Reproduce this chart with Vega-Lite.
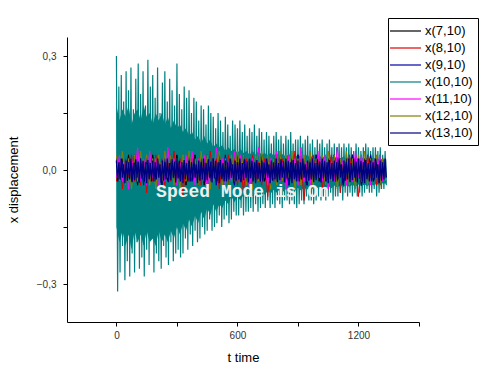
{
"$schema":"https://vega.github.io/schema/vega-lite/v6.json",
"autosize":{"type":"none"},
"padding":{"left":67,"top":37,"right":63,"bottom":65},
"width":352,"height":285,
"config":{"view":{"stroke":null},"font":"Liberation Sans"},
"datasets":{
"env":[
{"t":0,"hi":0.17,"lo":-0.15},{"t":15,"hi":0.13,"lo":-0.19},{"t":30,"hi":0.16,"lo":-0.16},{"t":45,"hi":0.14,"lo":-0.20},{"t":60,"hi":0.17,"lo":-0.17},{"t":75,"hi":0.12,"lo":-0.21},{"t":90,"hi":0.15,"lo":-0.16},{"t":105,"hi":0.16,"lo":-0.19},{"t":120,"hi":0.13,"lo":-0.17},{"t":135,"hi":0.17,"lo":-0.20},
{"t":150,"hi":0.14,"lo":-0.16},{"t":165,"hi":0.15,"lo":-0.19},{"t":180,"hi":0.12,"lo":-0.18},{"t":195,"hi":0.15,"lo":-0.20},{"t":210,"hi":0.13,"lo":-0.16},{"t":225,"hi":0.15,"lo":-0.19},{"t":240,"hi":0.12,"lo":-0.17},{"t":255,"hi":0.14,"lo":-0.19},{"t":270,"hi":0.11,"lo":-0.16},{"t":285,"hi":0.13,"lo":-0.18},
{"t":300,"hi":0.11,"lo":-0.15},{"t":315,"hi":0.12,"lo":-0.17},{"t":330,"hi":0.10,"lo":-0.14},{"t":345,"hi":0.11,"lo":-0.16},{"t":360,"hi":0.09,"lo":-0.13},{"t":375,"hi":0.10,"lo":-0.15},{"t":390,"hi":0.08,"lo":-0.12},{"t":405,"hi":0.09,"lo":-0.14},{"t":420,"hi":0.07,"lo":-0.11},{"t":435,"hi":0.09,"lo":-0.13},
{"t":450,"hi":0.07,"lo":-0.10},{"t":465,"hi":0.08,"lo":-0.12},{"t":480,"hi":0.06,"lo":-0.09},{"t":495,"hi":0.07,"lo":-0.11},{"t":510,"hi":0.06,"lo":-0.09},{"t":525,"hi":0.065,"lo":-0.10},{"t":540,"hi":0.05,"lo":-0.08},{"t":555,"hi":0.06,"lo":-0.09},{"t":570,"hi":0.05,"lo":-0.07},{"t":585,"hi":0.055,"lo":-0.085},
{"t":600,"hi":0.045,"lo":-0.07},{"t":615,"hi":0.055,"lo":-0.08},{"t":630,"hi":0.045,"lo":-0.065},{"t":645,"hi":0.05,"lo":-0.075},{"t":660,"hi":0.04,"lo":-0.06},{"t":675,"hi":0.05,"lo":-0.07},{"t":690,"hi":0.04,"lo":-0.06},{"t":705,"hi":0.05,"lo":-0.068},{"t":720,"hi":0.04,"lo":-0.055},{"t":735,"hi":0.045,"lo":-0.065},
{"t":750,"hi":0.038,"lo":-0.055},{"t":765,"hi":0.045,"lo":-0.062},{"t":780,"hi":0.038,"lo":-0.052},{"t":795,"hi":0.044,"lo":-0.06},{"t":810,"hi":0.036,"lo":-0.05},{"t":825,"hi":0.042,"lo":-0.058},{"t":840,"hi":0.035,"lo":-0.05},{"t":855,"hi":0.042,"lo":-0.056},{"t":870,"hi":0.035,"lo":-0.048},{"t":885,"hi":0.04,"lo":-0.055},
{"t":900,"hi":0.034,"lo":-0.047},{"t":915,"hi":0.04,"lo":-0.054},{"t":930,"hi":0.033,"lo":-0.046},{"t":945,"hi":0.04,"lo":-0.052},{"t":960,"hi":0.033,"lo":-0.045},{"t":975,"hi":0.038,"lo":-0.05},{"t":990,"hi":0.032,"lo":-0.044},{"t":1005,"hi":0.038,"lo":-0.05},{"t":1020,"hi":0.032,"lo":-0.043},{"t":1035,"hi":0.037,"lo":-0.048},
{"t":1050,"hi":0.031,"lo":-0.042},{"t":1065,"hi":0.036,"lo":-0.048},{"t":1080,"hi":0.031,"lo":-0.041},{"t":1095,"hi":0.035,"lo":-0.046},{"t":1110,"hi":0.03,"lo":-0.04},{"t":1125,"hi":0.035,"lo":-0.045},{"t":1140,"hi":0.03,"lo":-0.04},{"t":1155,"hi":0.034,"lo":-0.044},{"t":1170,"hi":0.029,"lo":-0.039},{"t":1185,"hi":0.033,"lo":-0.044},
{"t":1200,"hi":0.029,"lo":-0.038},{"t":1215,"hi":0.033,"lo":-0.043},{"t":1230,"hi":0.028,"lo":-0.038},{"t":1245,"hi":0.032,"lo":-0.042},{"t":1260,"hi":0.028,"lo":-0.037},{"t":1275,"hi":0.032,"lo":-0.041},{"t":1290,"hi":0.027,"lo":-0.036},{"t":1305,"hi":0.031,"lo":-0.04},{"t":1320,"hi":0.027,"lo":-0.035},{"t":1338,"hi":0.028,"lo":-0.036}
],
"teal":[
{"t":0,"v":0.30,"n":0.025},{"t":6,"v":-0.32,"n":-0.03},{"t":12,"v":0.22,"n":0.02},{"t":18,"v":-0.27,"n":-0.025},{"t":24,"v":0.25,"n":0.03},{"t":30,"v":-0.20,"n":-0.02},{"t":36,"v":0.18,"n":0.015},{"t":42,"v":-0.29,"n":-0.035},{"t":48,"v":0.26,"n":0.025},{"t":54,"v":-0.24,"n":-0.028},
{"t":60,"v":0.21,"n":0.02},{"t":66,"v":-0.28,"n":-0.025},{"t":72,"v":0.27,"n":0.03},{"t":78,"v":-0.22,"n":-0.032},{"t":84,"v":0.16,"n":0.018},{"t":90,"v":-0.27,"n":-0.027},{"t":96,"v":0.24,"n":0.028},{"t":102,"v":-0.19,"n":-0.02},{"t":108,"v":0.28,"n":0.022},{"t":114,"v":-0.26,"n":-0.033},
{"t":120,"v":0.20,"n":0.03},{"t":126,"v":-0.23,"n":-0.022},{"t":132,"v":0.26,"n":0.024},{"t":138,"v":-0.28,"n":-0.03},{"t":144,"v":0.17,"n":0.02},{"t":150,"v":-0.21,"n":-0.035},{"t":156,"v":0.29,"n":0.026},{"t":162,"v":-0.25,"n":-0.024},{"t":168,"v":0.22,"n":0.018},{"t":174,"v":-0.18,"n":-0.03},
{"t":180,"v":0.25,"n":0.025},{"t":186,"v":-0.27,"n":-0.03},{"t":192,"v":0.19,"n":0.02},{"t":198,"v":-0.22,"n":-0.025},{"t":204,"v":0.27,"n":0.03},{"t":210,"v":-0.24,"n":-0.02},{"t":216,"v":0.15,"n":0.015},{"t":222,"v":-0.26,"n":-0.035},{"t":228,"v":0.23,"n":0.025},{"t":234,"v":-0.20,"n":-0.028},
{"t":240,"v":0.26,"n":0.02},{"t":246,"v":-0.23,"n":-0.025},{"t":252,"v":0.18,"n":0.03},{"t":258,"v":-0.25,"n":-0.032},{"t":264,"v":0.24,"n":0.018},{"t":270,"v":-0.19,"n":-0.027},{"t":276,"v":0.21,"n":0.028},{"t":282,"v":-0.24,"n":-0.02},{"t":288,"v":0.17,"n":0.022},{"t":294,"v":-0.22,"n":-0.033},
{"t":300,"v":0.28,"n":0.03},{"t":306,"v":-0.21,"n":-0.022},{"t":312,"v":0.20,"n":0.024},{"t":318,"v":-0.23,"n":-0.03},{"t":324,"v":0.16,"n":0.02},{"t":330,"v":-0.22,"n":-0.035},{"t":336,"v":0.22,"n":0.026},{"t":342,"v":-0.18,"n":-0.024},{"t":348,"v":0.19,"n":0.018},{"t":354,"v":-0.21,"n":-0.03},
{"t":360,"v":0.21,"n":0.025},{"t":366,"v":-0.17,"n":-0.03},{"t":372,"v":0.15,"n":0.02},{"t":378,"v":-0.20,"n":-0.025},{"t":384,"v":0.19,"n":0.03},{"t":390,"v":-0.16,"n":-0.02},{"t":396,"v":0.18,"n":0.015},{"t":402,"v":-0.19,"n":-0.035},{"t":408,"v":0.13,"n":0.025},{"t":414,"v":-0.18,"n":-0.028},
{"t":420,"v":0.17,"n":0.02},{"t":426,"v":-0.15,"n":-0.025},{"t":432,"v":0.16,"n":0.03},{"t":438,"v":-0.17,"n":-0.032},{"t":444,"v":0.12,"n":0.018},{"t":450,"v":-0.16,"n":-0.027},{"t":456,"v":0.17,"n":0.028},{"t":462,"v":-0.13,"n":-0.02},{"t":468,"v":0.15,"n":0.022},{"t":474,"v":-0.16,"n":-0.033},
{"t":480,"v":0.14,"n":0.03},{"t":486,"v":-0.15,"n":-0.022},{"t":492,"v":0.11,"n":0.024},{"t":498,"v":-0.14,"n":-0.03},{"t":504,"v":0.15,"n":0.02},{"t":510,"v":-0.12,"n":-0.035},{"t":516,"v":0.13,"n":0.026},{"t":522,"v":-0.15,"n":-0.024},{"t":528,"v":0.10,"n":0.018},{"t":534,"v":-0.13,"n":-0.03},
{"t":540,"v":0.14,"n":0.025},{"t":546,"v":-0.12,"n":-0.03},{"t":552,"v":0.12,"n":0.02},{"t":558,"v":-0.14,"n":-0.025},{"t":564,"v":0.09,"n":0.03},{"t":570,"v":-0.13,"n":-0.02},{"t":576,"v":0.13,"n":0.015},{"t":582,"v":-0.11,"n":-0.035},{"t":588,"v":0.12,"n":0.025},{"t":594,"v":-0.12,"n":-0.028},
{"t":600,"v":0.11,"n":0.02},{"t":606,"v":-0.12,"n":-0.025},{"t":612,"v":0.13,"n":0.03},{"t":618,"v":-0.10,"n":-0.032},{"t":624,"v":0.10,"n":0.018},{"t":630,"v":-0.12,"n":-0.027},{"t":636,"v":0.12,"n":0.028},{"t":642,"v":-0.11,"n":-0.02},{"t":648,"v":0.09,"n":0.022},{"t":654,"v":-0.11,"n":-0.033},
{"t":660,"v":0.11,"n":0.03},{"t":666,"v":-0.10,"n":-0.022},{"t":672,"v":0.10,"n":0.024},{"t":678,"v":-0.11,"n":-0.03},{"t":684,"v":0.12,"n":0.02},{"t":690,"v":-0.09,"n":-0.035},{"t":696,"v":0.09,"n":0.026},{"t":702,"v":-0.11,"n":-0.024},{"t":708,"v":0.11,"n":0.018},{"t":714,"v":-0.10,"n":-0.03},
{"t":720,"v":0.10,"n":0.025},{"t":726,"v":-0.09,"n":-0.03},{"t":732,"v":0.08,"n":0.02},{"t":738,"v":-0.10,"n":-0.025},{"t":744,"v":0.10,"n":0.03},{"t":750,"v":-0.08,"n":-0.02},{"t":756,"v":0.09,"n":0.015},{"t":762,"v":-0.10,"n":-0.035},{"t":768,"v":0.07,"n":0.025},{"t":774,"v":-0.09,"n":-0.028},
{"t":780,"v":0.09,"n":0.02},{"t":786,"v":-0.10,"n":-0.025},{"t":792,"v":0.10,"n":0.03},{"t":798,"v":-0.08,"n":-0.032},{"t":804,"v":0.08,"n":0.018},{"t":810,"v":-0.09,"n":-0.027},{"t":816,"v":0.09,"n":0.028},{"t":822,"v":-0.10,"n":-0.02},{"t":828,"v":0.07,"n":0.022},{"t":834,"v":-0.08,"n":-0.033},
{"t":840,"v":0.09,"n":0.03},{"t":846,"v":-0.08,"n":-0.022},{"t":852,"v":0.08,"n":0.024},{"t":858,"v":-0.09,"n":-0.03},{"t":864,"v":0.10,"n":0.02},{"t":870,"v":-0.08,"n":-0.035},{"t":876,"v":0.07,"n":0.026},{"t":882,"v":-0.09,"n":-0.024},{"t":888,"v":0.08,"n":0.018},{"t":894,"v":-0.10,"n":-0.03},
{"t":900,"v":0.08,"n":0.025},{"t":906,"v":-0.09,"n":-0.03},{"t":912,"v":0.09,"n":0.02},{"t":918,"v":-0.08,"n":-0.025},{"t":924,"v":0.07,"n":0.03},{"t":930,"v":-0.09,"n":-0.02},{"t":936,"v":0.08,"n":0.015},{"t":942,"v":-0.07,"n":-0.035},{"t":948,"v":0.09,"n":0.025},{"t":954,"v":-0.08,"n":-0.028},
{"t":960,"v":0.07,"n":0.02},{"t":966,"v":-0.08,"n":-0.025},{"t":972,"v":0.08,"n":0.03},{"t":978,"v":-0.09,"n":-0.032},{"t":984,"v":0.06,"n":0.018},{"t":990,"v":-0.08,"n":-0.027},{"t":996,"v":0.08,"n":0.028},{"t":1002,"v":-0.07,"n":-0.02},{"t":1008,"v":0.07,"n":0.022},{"t":1014,"v":-0.08,"n":-0.033},
{"t":1020,"v":0.08,"n":0.03},{"t":1026,"v":-0.07,"n":-0.022},{"t":1032,"v":0.06,"n":0.024},{"t":1038,"v":-0.08,"n":-0.03},{"t":1044,"v":0.07,"n":0.02},{"t":1050,"v":-0.07,"n":-0.035},{"t":1056,"v":0.08,"n":0.026},{"t":1062,"v":-0.06,"n":-0.024},{"t":1068,"v":0.06,"n":0.018},{"t":1074,"v":-0.08,"n":-0.03},
{"t":1080,"v":0.07,"n":0.025},{"t":1086,"v":-0.07,"n":-0.03},{"t":1092,"v":0.06,"n":0.02},{"t":1098,"v":-0.07,"n":-0.025},{"t":1104,"v":0.07,"n":0.03},{"t":1110,"v":-0.06,"n":-0.02},{"t":1116,"v":0.06,"n":0.015},{"t":1122,"v":-0.08,"n":-0.035},{"t":1128,"v":0.07,"n":0.025},{"t":1134,"v":-0.06,"n":-0.028},
{"t":1140,"v":0.06,"n":0.02},{"t":1146,"v":-0.07,"n":-0.025},{"t":1152,"v":0.07,"n":0.03},{"t":1158,"v":-0.06,"n":-0.032},{"t":1164,"v":0.06,"n":0.018},{"t":1170,"v":-0.07,"n":-0.027},{"t":1176,"v":0.05,"n":0.028},{"t":1182,"v":-0.06,"n":-0.02},{"t":1188,"v":0.07,"n":0.022},{"t":1194,"v":-0.07,"n":-0.033},
{"t":1200,"v":0.06,"n":0.03},{"t":1206,"v":-0.06,"n":-0.022},{"t":1212,"v":0.05,"n":0.024},{"t":1218,"v":-0.07,"n":-0.03},{"t":1224,"v":0.06,"n":0.02},{"t":1230,"v":-0.06,"n":-0.035},{"t":1236,"v":0.07,"n":0.026},{"t":1242,"v":-0.05,"n":-0.024},{"t":1248,"v":0.06,"n":0.018},{"t":1254,"v":-0.06,"n":-0.03},
{"t":1260,"v":0.05,"n":0.025},{"t":1266,"v":-0.06,"n":-0.03},{"t":1272,"v":0.06,"n":0.02},{"t":1278,"v":-0.05,"n":-0.025},{"t":1284,"v":0.06,"n":0.03},{"t":1290,"v":-0.07,"n":-0.02},{"t":1296,"v":0.05,"n":0.015},{"t":1302,"v":-0.06,"n":-0.035},{"t":1308,"v":0.06,"n":0.025},{"t":1314,"v":-0.05,"n":-0.028},
{"t":1320,"v":0.04,"n":0.02},{"t":1326,"v":-0.05,"n":-0.025},{"t":1332,"v":0.05,"n":0.03},{"t":1338,"v":-0.04,"n":-0.02}
],
"small":[
{"t":0,"x(7,10)":0.02,"x(8,10)":-0.03,"x(9,10)":0.03,"x(11,10)":-0.02,"x(12,10)":0.04},
{"t":15,"x(7,10)":-0.03,"x(8,10)":0.02,"x(9,10)":-0.03,"x(11,10)":0.04,"x(12,10)":-0.03},
{"t":30,"x(7,10)":0.03,"x(8,10)":-0.05,"x(9,10)":0.02,"x(11,10)":-0.03,"x(12,10)":0.05},
{"t":45,"x(7,10)":-0.02,"x(8,10)":0.03,"x(9,10)":-0.04,"x(11,10)":0.02,"x(12,10)":-0.04},
{"t":60,"x(7,10)":0.04,"x(8,10)":-0.02,"x(9,10)":0.03,"x(11,10)":-0.05,"x(12,10)":0.03},
{"t":75,"x(7,10)":-0.03,"x(8,10)":0.04,"x(9,10)":-0.02,"x(11,10)":0.03,"x(12,10)":-0.05},
{"t":90,"x(7,10)":0.02,"x(8,10)":-0.03,"x(9,10)":0.04,"x(11,10)":-0.02,"x(12,10)":0.04},
{"t":105,"x(7,10)":-0.04,"x(8,10)":0.02,"x(9,10)":-0.03,"x(11,10)":0.06,"x(12,10)":-0.03},
{"t":120,"x(7,10)":0.03,"x(8,10)":-0.04,"x(9,10)":0.02,"x(11,10)":-0.03,"x(12,10)":0.05},
{"t":135,"x(7,10)":-0.02,"x(8,10)":0.03,"x(9,10)":-0.04,"x(11,10)":0.03,"x(12,10)":-0.02},
{"t":150,"x(7,10)":0.03,"x(8,10)":-0.06,"x(9,10)":0.03,"x(11,10)":-0.04,"x(12,10)":0.04},
{"t":165,"x(7,10)":-0.03,"x(8,10)":0.02,"x(9,10)":-0.02,"x(11,10)":0.05,"x(12,10)":-0.04},
{"t":180,"x(7,10)":0.04,"x(8,10)":-0.03,"x(9,10)":0.03,"x(11,10)":-0.02,"x(12,10)":0.03},
{"t":195,"x(7,10)":-0.02,"x(8,10)":0.04,"x(9,10)":-0.03,"x(11,10)":0.03,"x(12,10)":-0.05},
{"t":210,"x(7,10)":0.03,"x(8,10)":-0.02,"x(9,10)":0.02,"x(11,10)":-0.05,"x(12,10)":0.04},
{"t":225,"x(7,10)":-0.04,"x(8,10)":0.03,"x(9,10)":-0.04,"x(11,10)":0.02,"x(12,10)":-0.03},
{"t":240,"x(7,10)":0.02,"x(8,10)":-0.04,"x(9,10)":0.03,"x(11,10)":-0.03,"x(12,10)":0.05},
{"t":255,"x(7,10)":-0.03,"x(8,10)":0.02,"x(9,10)":-0.02,"x(11,10)":0.06,"x(12,10)":-0.02},
{"t":270,"x(7,10)":0.03,"x(8,10)":-0.03,"x(9,10)":0.04,"x(11,10)":-0.02,"x(12,10)":0.04},
{"t":285,"x(7,10)":-0.02,"x(8,10)":0.05,"x(9,10)":-0.03,"x(11,10)":0.03,"x(12,10)":-0.04},
{"t":300,"x(7,10)":0.04,"x(8,10)":-0.02,"x(9,10)":0.02,"x(11,10)":-0.04,"x(12,10)":0.03},
{"t":315,"x(7,10)":-0.03,"x(8,10)":0.03,"x(9,10)":-0.04,"x(11,10)":0.02,"x(12,10)":-0.05},
{"t":330,"x(7,10)":0.02,"x(8,10)":-0.07,"x(9,10)":0.03,"x(11,10)":-0.03,"x(12,10)":0.04},
{"t":345,"x(7,10)":-0.04,"x(8,10)":0.02,"x(9,10)":-0.02,"x(11,10)":0.04,"x(12,10)":-0.03},
{"t":360,"x(7,10)":0.03,"x(8,10)":-0.03,"x(9,10)":0.04,"x(11,10)":-0.02,"x(12,10)":0.05},
{"t":375,"x(7,10)":-0.02,"x(8,10)":0.04,"x(9,10)":-0.03,"x(11,10)":0.05,"x(12,10)":-0.02},
{"t":390,"x(7,10)":0.04,"x(8,10)":-0.02,"x(9,10)":0.02,"x(11,10)":-0.04,"x(12,10)":0.03},
{"t":405,"x(7,10)":-0.03,"x(8,10)":0.03,"x(9,10)":-0.04,"x(11,10)":0.03,"x(12,10)":-0.04},
{"t":420,"x(7,10)":0.02,"x(8,10)":-0.04,"x(9,10)":0.03,"x(11,10)":-0.02,"x(12,10)":0.05},
{"t":435,"x(7,10)":-0.04,"x(8,10)":0.02,"x(9,10)":-0.02,"x(11,10)":0.04,"x(12,10)":-0.03},
{"t":450,"x(7,10)":0.03,"x(8,10)":-0.03,"x(9,10)":0.04,"x(11,10)":-0.05,"x(12,10)":0.04},
{"t":465,"x(7,10)":-0.02,"x(8,10)":0.05,"x(9,10)":-0.03,"x(11,10)":0.02,"x(12,10)":-0.05},
{"t":480,"x(7,10)":0.03,"x(8,10)":-0.02,"x(9,10)":0.03,"x(11,10)":-0.03,"x(12,10)":0.03},
{"t":495,"x(7,10)":-0.03,"x(8,10)":0.03,"x(9,10)":-0.04,"x(11,10)":0.06,"x(12,10)":-0.02},
{"t":510,"x(7,10)":0.04,"x(8,10)":-0.05,"x(9,10)":0.02,"x(11,10)":-0.02,"x(12,10)":0.05},
{"t":525,"x(7,10)":-0.02,"x(8,10)":0.02,"x(9,10)":-0.03,"x(11,10)":0.03,"x(12,10)":-0.04},
{"t":540,"x(7,10)":0.02,"x(8,10)":-0.03,"x(9,10)":0.04,"x(11,10)":-0.04,"x(12,10)":0.03},
{"t":555,"x(7,10)":-0.04,"x(8,10)":0.04,"x(9,10)":-0.02,"x(11,10)":0.02,"x(12,10)":-0.05},
{"t":570,"x(7,10)":0.03,"x(8,10)":-0.02,"x(9,10)":0.03,"x(11,10)":-0.03,"x(12,10)":0.04},
{"t":585,"x(7,10)":-0.03,"x(8,10)":0.03,"x(9,10)":-0.04,"x(11,10)":0.05,"x(12,10)":-0.03},
{"t":600,"x(7,10)":0.04,"x(8,10)":-0.04,"x(9,10)":0.02,"x(11,10)":-0.02,"x(12,10)":0.05},
{"t":615,"x(7,10)":-0.02,"x(8,10)":0.02,"x(9,10)":-0.03,"x(11,10)":0.04,"x(12,10)":-0.02},
{"t":630,"x(7,10)":0.03,"x(8,10)":-0.06,"x(9,10)":0.04,"x(11,10)":-0.03,"x(12,10)":0.04},
{"t":645,"x(7,10)":-0.03,"x(8,10)":0.03,"x(9,10)":-0.02,"x(11,10)":0.02,"x(12,10)":-0.04},
{"t":660,"x(7,10)":0.02,"x(8,10)":-0.02,"x(9,10)":0.03,"x(11,10)":-0.05,"x(12,10)":0.03},
{"t":675,"x(7,10)":-0.04,"x(8,10)":0.04,"x(9,10)":-0.04,"x(11,10)":0.03,"x(12,10)":-0.05},
{"t":690,"x(7,10)":0.03,"x(8,10)":-0.03,"x(9,10)":0.02,"x(11,10)":-0.02,"x(12,10)":0.04},
{"t":705,"x(7,10)":-0.02,"x(8,10)":0.02,"x(9,10)":-0.03,"x(11,10)":0.06,"x(12,10)":-0.03},
{"t":720,"x(7,10)":0.04,"x(8,10)":-0.04,"x(9,10)":0.04,"x(11,10)":-0.03,"x(12,10)":0.05},
{"t":735,"x(7,10)":-0.03,"x(8,10)":0.03,"x(9,10)":-0.02,"x(11,10)":0.02,"x(12,10)":-0.02},
{"t":750,"x(7,10)":0.02,"x(8,10)":-0.07,"x(9,10)":0.03,"x(11,10)":-0.04,"x(12,10)":0.04},
{"t":765,"x(7,10)":-0.04,"x(8,10)":0.02,"x(9,10)":-0.04,"x(11,10)":0.03,"x(12,10)":-0.05},
{"t":780,"x(7,10)":0.03,"x(8,10)":-0.03,"x(9,10)":0.02,"x(11,10)":-0.02,"x(12,10)":0.03},
{"t":795,"x(7,10)":-0.02,"x(8,10)":0.04,"x(9,10)":-0.03,"x(11,10)":0.05,"x(12,10)":-0.04},
{"t":810,"x(7,10)":0.04,"x(8,10)":-0.02,"x(9,10)":0.04,"x(11,10)":-0.03,"x(12,10)":0.05},
{"t":825,"x(7,10)":-0.03,"x(8,10)":0.03,"x(9,10)":-0.02,"x(11,10)":0.02,"x(12,10)":-0.03},
{"t":840,"x(7,10)":0.02,"x(8,10)":-0.04,"x(9,10)":0.03,"x(11,10)":-0.05,"x(12,10)":0.04},
{"t":855,"x(7,10)":-0.04,"x(8,10)":0.02,"x(9,10)":-0.04,"x(11,10)":0.04,"x(12,10)":-0.02},
{"t":870,"x(7,10)":0.03,"x(8,10)":-0.03,"x(9,10)":0.02,"x(11,10)":-0.02,"x(12,10)":0.05},
{"t":885,"x(7,10)":-0.02,"x(8,10)":0.05,"x(9,10)":-0.03,"x(11,10)":0.03,"x(12,10)":-0.05},
{"t":900,"x(7,10)":0.04,"x(8,10)":-0.02,"x(9,10)":0.04,"x(11,10)":-0.04,"x(12,10)":0.03},
{"t":915,"x(7,10)":-0.03,"x(8,10)":0.03,"x(9,10)":-0.02,"x(11,10)":0.06,"x(12,10)":-0.04},
{"t":930,"x(7,10)":0.02,"x(8,10)":-0.08,"x(9,10)":0.03,"x(11,10)":-0.03,"x(12,10)":0.04},
{"t":945,"x(7,10)":-0.04,"x(8,10)":0.02,"x(9,10)":-0.04,"x(11,10)":0.02,"x(12,10)":-0.03},
{"t":960,"x(7,10)":0.03,"x(8,10)":-0.03,"x(9,10)":0.02,"x(11,10)":-0.04,"x(12,10)":0.05},
{"t":975,"x(7,10)":-0.02,"x(8,10)":0.04,"x(9,10)":-0.03,"x(11,10)":0.03,"x(12,10)":-0.05},
{"t":990,"x(7,10)":0.04,"x(8,10)":-0.02,"x(9,10)":0.04,"x(11,10)":-0.02,"x(12,10)":0.03},
{"t":1005,"x(7,10)":-0.03,"x(8,10)":0.03,"x(9,10)":-0.02,"x(11,10)":0.05,"x(12,10)":-0.02},
{"t":1020,"x(7,10)":0.02,"x(8,10)":-0.05,"x(9,10)":0.03,"x(11,10)":-0.03,"x(12,10)":0.04},
{"t":1035,"x(7,10)":-0.04,"x(8,10)":0.02,"x(9,10)":-0.04,"x(11,10)":0.04,"x(12,10)":-0.04},
{"t":1050,"x(7,10)":0.03,"x(8,10)":-0.03,"x(9,10)":0.02,"x(11,10)":-0.05,"x(12,10)":0.05},
{"t":1065,"x(7,10)":-0.02,"x(8,10)":0.04,"x(9,10)":-0.03,"x(11,10)":0.02,"x(12,10)":-0.03},
{"t":1080,"x(7,10)":0.04,"x(8,10)":-0.02,"x(9,10)":0.04,"x(11,10)":-0.03,"x(12,10)":0.04},
{"t":1095,"x(7,10)":-0.03,"x(8,10)":0.03,"x(9,10)":-0.02,"x(11,10)":0.06,"x(12,10)":-0.05},
{"t":1110,"x(7,10)":0.02,"x(8,10)":-0.06,"x(9,10)":0.03,"x(11,10)":-0.02,"x(12,10)":0.03},
{"t":1125,"x(7,10)":-0.04,"x(8,10)":0.02,"x(9,10)":-0.04,"x(11,10)":0.03,"x(12,10)":-0.02},
{"t":1140,"x(7,10)":0.03,"x(8,10)":-0.03,"x(9,10)":0.02,"x(11,10)":-0.04,"x(12,10)":0.05},
{"t":1155,"x(7,10)":-0.02,"x(8,10)":0.04,"x(9,10)":-0.03,"x(11,10)":0.02,"x(12,10)":-0.04},
{"t":1170,"x(7,10)":0.04,"x(8,10)":-0.02,"x(9,10)":0.04,"x(11,10)":-0.03,"x(12,10)":0.03},
{"t":1185,"x(7,10)":-0.03,"x(8,10)":0.03,"x(9,10)":-0.02,"x(11,10)":0.05,"x(12,10)":-0.05},
{"t":1200,"x(7,10)":0.02,"x(8,10)":-0.07,"x(9,10)":0.03,"x(11,10)":-0.02,"x(12,10)":0.04},
{"t":1215,"x(7,10)":-0.04,"x(8,10)":0.02,"x(9,10)":-0.04,"x(11,10)":0.04,"x(12,10)":-0.03},
{"t":1230,"x(7,10)":0.03,"x(8,10)":-0.03,"x(9,10)":0.02,"x(11,10)":-0.03,"x(12,10)":0.05},
{"t":1245,"x(7,10)":-0.02,"x(8,10)":0.04,"x(9,10)":-0.03,"x(11,10)":0.02,"x(12,10)":-0.04},
{"t":1260,"x(7,10)":0.04,"x(8,10)":-0.02,"x(9,10)":0.04,"x(11,10)":-0.04,"x(12,10)":0.03},
{"t":1275,"x(7,10)":-0.03,"x(8,10)":0.03,"x(9,10)":-0.02,"x(11,10)":0.03,"x(12,10)":-0.02},
{"t":1290,"x(7,10)":0.02,"x(8,10)":-0.04,"x(9,10)":0.03,"x(11,10)":-0.02,"x(12,10)":0.04},
{"t":1305,"x(7,10)":-0.04,"x(8,10)":0.02,"x(9,10)":-0.04,"x(11,10)":0.04,"x(12,10)":-0.05},
{"t":1320,"x(7,10)":0.03,"x(8,10)":-0.03,"x(9,10)":0.02,"x(11,10)":-0.03,"x(12,10)":0.03},
{"t":1335,"x(7,10)":-0.02,"x(8,10)":0.02,"x(9,10)":-0.03,"x(11,10)":0.02,"x(12,10)":-0.03}
],
"note":[{"t":625,"v":-0.058,"label":"Speed Mode is On"}]
},
"layer":[
{"data":{"name":"env"},
 "mark":{"type":"area","fill":"#008080","opacity":1,"clip":true},
 "encoding":{
  "x":{"field":"t","type":"quantitative","scale":{"domain":[-245,1500],"nice":false,"zero":false},
   "axis":{"title":"t time","values":[0,300,600,900,1200,1500],"format":"d","labelExpr":"datum.value % 600 == 0 ? datum.label : ''","grid":false,"domainColor":"#000","tickColor":"#000","tickSize":4,"labelFontSize":10,"labelColor":"#333","labelPadding":4,"titleFontSize":13,"titleFontWeight":"normal","titleColor":"#000","titlePadding":11}},
  "y":{"field":"lo","type":"quantitative","scale":{"domain":[-0.4,0.35],"nice":false,"zero":false},
   "axis":{"title":"x displacement","values":[-0.3,-0.15,0,0.15,0.3],"format":".1f","labelExpr":"(datum.value > 0.2 || datum.value < -0.2 || datum.value == 0) ? replace(datum.label, '.', ',') : ''","grid":false,"domainColor":"#000","tickColor":"#000","tickSize":4,"labelFontSize":10,"labelColor":"#333","labelPadding":7,"titleFontSize":13,"titleFontWeight":"normal","titleColor":"#000","titlePadding":16}},
  "y2":{"field":"hi"}
 }},
{"data":{"name":"teal"},
 "mark":{"type":"line","strokeWidth":1.2,"clip":true},
 "encoding":{
  "x":{"field":"t","type":"quantitative"},
  "y":{"field":"v","type":"quantitative"},
  "color":{"datum":"x(10,10)","type":"nominal"}
 }},
{"data":{"name":"small"},
 "transform":[{"fold":["x(7,10)","x(8,10)","x(9,10)","x(11,10)","x(12,10)"],"as":["key","v"]}],
 "mark":{"type":"line","strokeWidth":1,"clip":true},
 "encoding":{
  "x":{"field":"t","type":"quantitative"},
  "y":{"field":"v","type":"quantitative"},
  "color":{"field":"key","type":"nominal",
   "scale":{"domain":["x(7,10)","x(8,10)","x(9,10)","x(10,10)","x(11,10)","x(12,10)","x(13,10)"],"range":["#000000","#e00000","#0000a8","#008080","#ff00ff","#808000","#000080"]},
   "legend":{"title":null,"orient":"none","legendX":321,"legendY":-19,"symbolType":"M-1.57,0H2.86","symbolSize":196,"symbolStrokeWidth":1.2,"symbolOpacity":1,"symbolFillColor":"transparent","strokeColor":"#000","fillColor":"#fff","padding":5,"labelFontSize":13,"labelColor":"#000","labelOffset":16,"rowPadding":2}}
 }},
{"data":{"name":"teal"},
 "mark":{"type":"line","strokeWidth":1.3,"clip":true},
 "encoding":{
  "x":{"field":"t","type":"quantitative"},
  "y":{"field":"n","type":"quantitative"},
  "color":{"datum":"x(13,10)","type":"nominal"}
 }},
{"data":{"name":"note"},
 "mark":{"type":"text","font":"Liberation Mono","fontWeight":"bold","fontSize":18,"fill":"#eeeeee","align":"center","baseline":"middle"},
 "encoding":{
  "x":{"field":"t","type":"quantitative"},
  "y":{"field":"v","type":"quantitative"},
  "text":{"field":"label"}
 }}
]
}
